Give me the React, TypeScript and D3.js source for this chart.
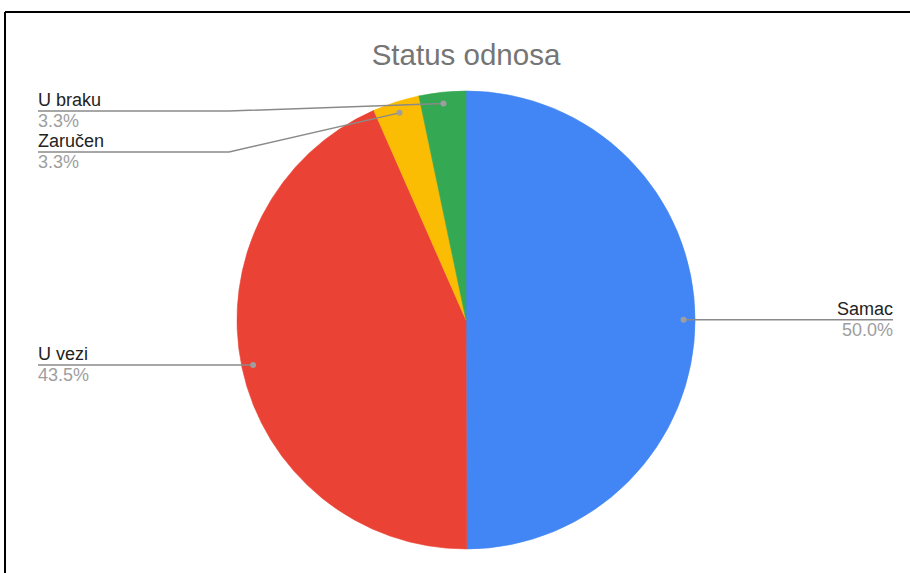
import React from "react";
import * as d3 from "d3";

const categories = ["Samac", "U vezi", "Zaručen", "U braku"];
const values = [50.0, 43.5, 3.3, 3.3];
const percentLabels = ["50.0%", "43.5%", "3.3%", "3.3%"];
const colors = ["#4285F4", "#EA4335", "#FBBC04", "#34A853"];
const title = "Status odnosa";

const W = 910;
const H = 573;
const cx = 466;
const cy = 320;
const R = 229;
const FONT = "'Liberation Sans', Arial, sans-serif";

export default function App() {
  const data = categories.map((c, i) => ({ name: c, value: values[i], pct: percentLabels[i], color: colors[i] }));
  const pie = d3.pie<any>().value((d) => d.value).sort(null);
  const arcs = pie(data);
  const arc = d3.arc<any>().innerRadius(0).outerRadius(R);
  const dotArc = d3.arc<any>().innerRadius(R * 0.95).outerRadius(R * 0.95);

  const items = arcs.map((a) => {
    const [dx, dy] = dotArc.centroid(a);
    const mid = (a.startAngle + a.endAngle) / 2;
    return { a, dx: cx + dx, dy: cy + dy, right: mid < Math.PI, ly: cy + dy };
  });
  const spacing = 41;
  const minY = 111;
  ["left", "right"].forEach((side) => {
    const group = items.filter((it) => (side === "right") === it.right).sort((p, q) => p.dy - q.dy);
    let prev = -Infinity;
    group.forEach((it) => {
      const y = Math.max(it.dy, minY, prev + spacing);
      it.ly = y;
      prev = y;
    });
  });

  const leftX = 38;
  const rightX = 893;
  const elbowLeft = 229;

  return (
    <div style={{ position: "absolute", left: 0, top: 0 }}>
      <svg width={W} height={H} style={{ display: "block", background: "#fff" }}>
        <rect x={0} y={0} width={W} height={H} fill="#fff" />
        <line x1={5} y1={12} x2={W} y2={12} stroke="#000" strokeWidth={2} />
        <line x1={5} y1={12} x2={5} y2={H} stroke="#000" strokeWidth={2} />
        <text x={cx} y={65} textAnchor="middle" fontFamily={FONT} fontSize={29.5} fill="#757575">
          {title}
        </text>
        <g transform={`translate(${cx},${cy})`}>
          {arcs.map((a, i) => (
            <path key={i} d={arc(a) as string} fill={a.data.color} stroke={a.data.color} strokeWidth={0.6} strokeLinejoin="round" />
          ))}
        </g>
        {items.map((it, i) => {
          const d = it.a.data;
          let path: string;
          if (it.right) {
            path = Math.abs(it.ly - it.dy) < 0.5
              ? `M${it.dx},${it.dy}L${rightX},${it.ly}`
              : `M${it.dx},${it.dy}L${it.dx + 20},${it.ly}L${rightX},${it.ly}`;
          } else {
            path = Math.abs(it.ly - it.dy) < 0.5
              ? `M${it.dx},${it.dy}L${leftX},${it.ly}`
              : `M${it.dx},${it.dy}L${elbowLeft},${it.ly}L${leftX},${it.ly}`;
          }
          const tx = it.right ? rightX : leftX;
          const anchor = it.right ? "end" : "start";
          return (
            <g key={i}>
              <path d={path} fill="none" stroke="#8a8a8a" strokeWidth={1.5} />
              <circle cx={it.dx} cy={it.dy} r={3} fill="#9e9e9e" />
              <text x={tx} y={it.ly - 5} textAnchor={anchor} fontFamily={FONT} fontSize={18} fill="#222">
                {d.name}
              </text>
              <text x={tx} y={it.ly + 16} textAnchor={anchor} fontFamily={FONT} fontSize={18} fill="#9e9e9e">
                {d.pct}
              </text>
            </g>
          );
        })}
      </svg>
    </div>
  );
}
